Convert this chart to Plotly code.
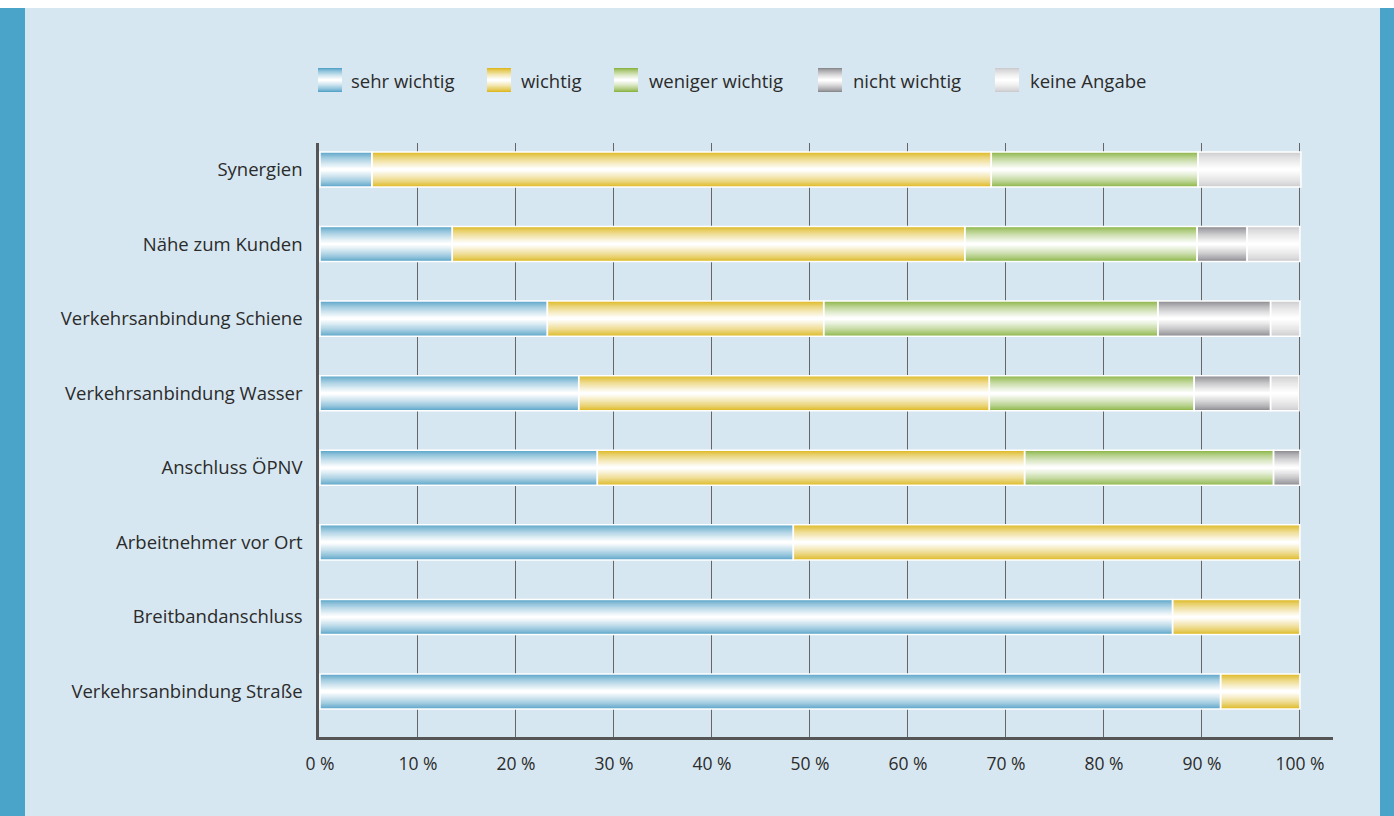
import plotly.graph_objects as go

categories = ["Synergien", "Nähe zum Kunden", "Verkehrsanbindung Schiene",
              "Verkehrsanbindung Wasser", "Anschluss ÖPNV", "Arbeitnehmer vor Ort",
              "Breitbandanschluss", "Verkehrsanbindung Straße"]
series_names = ["sehr wichtig", "wichtig", "weniger wichtig", "nicht wichtig", "keine Angabe"]
sehr_wichtig = [5.3, 13.5, 23.2, 26.4, 28.3, 48.3, 87.0, 91.9]
wichtig = [63.2, 52.3, 28.2, 41.9, 43.6, 51.7, 13.0, 8.1]
weniger_wichtig = [21.1, 23.7, 34.1, 20.9, 25.4, 0, 0, 0]
nicht_wichtig = [0, 5.1, 11.5, 7.8, 2.7, 0, 0, 0]
keine_angabe = [10.5, 5.4, 3.0, 2.9, 0, 0, 0, 0]
tick_vals = [0, 10, 20, 30, 40, 50, 60, 70, 80, 90, 100]
tick_text = [f"{v} %" for v in tick_vals]

series_values = [sehr_wichtig, wichtig, weniger_wichtig, nicht_wichtig, keine_angabe]
edge_colors = [(88, 164, 200), (221, 184, 32), (138, 180, 68), (138, 138, 143), (204, 204, 207)]

BG = "#d7e7f1"
FONT = "Open Sans"
TXT = "#2b2b2b"
W, H = 1394, 816
L, R, T, B = 319, 1333, 143, 737
BAR_W = 0.47
N_LAYERS = 14


def mix(c, t):
    r, g, b = [int(round(ci + (255 - ci) * t)) for ci in c]
    return f"rgb({r},{g},{b})"


def xp(px):
    return (px - L) / (R - L)


def yp(py):
    return (B - py) / (B - T)


fig = go.Figure()

# cumulative bases
bases = []
running = [0.0] * len(categories)
for vals in series_values:
    bases.append(list(running))
    running = [a + b for a, b in zip(running, vals)]

for k in range(N_LAYERS):
    frac = k / N_LAYERS
    width = BAR_W * (1 - frac)
    t = (k / (N_LAYERS - 1)) ** 0.75
    for name, vals, base, ec in zip(series_names, series_values, bases, edge_colors):
        fig.add_trace(go.Bar(
            y=categories, x=vals, base=base, orientation="h",
            width=width, marker=dict(color=mix(ec, t), line=dict(width=0)),
            name=name, showlegend=False, hoverinfo="skip"))

for name, vals, base in zip(series_names, series_values, bases):
    fig.add_trace(go.Bar(
        y=categories, x=[v if v > 0 else None for v in vals], base=base, orientation="h",
        width=BAR_W, marker=dict(color="rgba(0,0,0,0)", line=dict(width=1.5, color="white")),
        name=name, showlegend=False))

shapes = []
# frame strips
shapes.append(dict(type="rect", xref="paper", yref="paper", x0=xp(0), x1=xp(W), y0=yp(0), y1=yp(8),
                   fillcolor="white", line=dict(width=0), layer="below"))
shapes.append(dict(type="rect", xref="paper", yref="paper", x0=xp(0), x1=xp(25), y0=yp(8), y1=yp(H),
                   fillcolor="#4aa3c9", line=dict(width=0), layer="below"))
shapes.append(dict(type="rect", xref="paper", yref="paper", x0=xp(1380), x1=xp(W), y0=yp(8), y1=yp(H),
                   fillcolor="#4aa3c9", line=dict(width=0), layer="below"))

# manual legend
annotations = []
leg_sym_x = [318, 487, 614, 818, 995]
leg_txt_x = [349, 519, 647, 851, 1028]
leg_cy = 80
SYM = 24
LEG_LAYERS = 10
for name, ec, sx, tx in zip(series_names, edge_colors, leg_sym_x, leg_txt_x):
    for k in range(LEG_LAYERS):
        h = SYM * (1 - k / LEG_LAYERS)
        t = (k / (LEG_LAYERS - 1)) ** 0.75
        shapes.append(dict(type="rect", xref="paper", yref="paper",
                           x0=xp(sx), x1=xp(sx + SYM), y0=yp(leg_cy - h / 2), y1=yp(leg_cy + h / 2),
                           fillcolor=mix(ec, t), line=dict(width=0)))
    annotations.append(dict(text=name, xref="paper", yref="paper", x=xp(tx), y=yp(leg_cy),
                            xanchor="left", yanchor="middle", showarrow=False,
                            font=dict(family=FONT, size=18.5, color=TXT)))

fig.update_layout(
    width=W, height=H,
    margin=dict(l=L, r=W - R, t=T, b=H - B),
    paper_bgcolor=BG, plot_bgcolor=BG,
    barmode="overlay",
    showlegend=False,
    shapes=shapes, annotations=annotations,
    font=dict(family=FONT, size=18.5, color=TXT),
)
fig.update_xaxes(
    range=[-0.1, 103.37], tickvals=tick_vals, ticktext=tick_text,
    showgrid=True, gridcolor="#666666", gridwidth=1, zeroline=False,
    showline=True, linecolor="#555555", linewidth=2.5,
    ticks="", ticklabelstandoff=9, layer="above traces",
    tickfont=dict(family=FONT, size=17.5, color=TXT), fixedrange=True,
)
fig.update_yaxes(
    categoryorder="array", categoryarray=categories[::-1],
    range=[-0.61, 7.355],
    showgrid=False, zeroline=False,
    showline=True, linecolor="#555555", linewidth=2.5,
    ticks="", ticklabelstandoff=10, layer="above traces",
    tickfont=dict(family=FONT, size=18.5, color=TXT), fixedrange=True,
)

fig.write_html("out.html")
